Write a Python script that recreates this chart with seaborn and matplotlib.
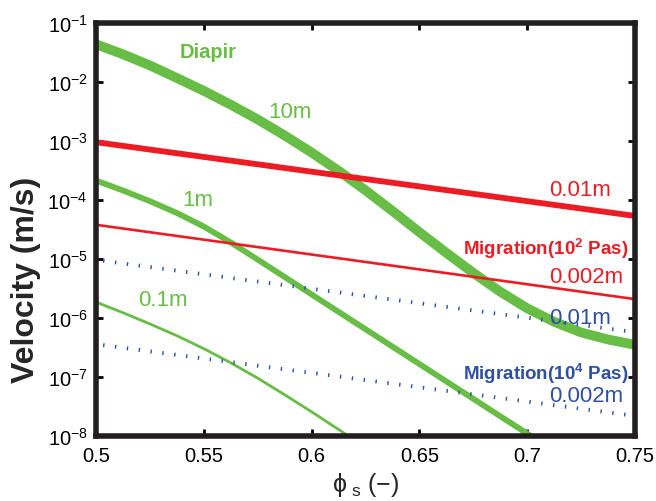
import numpy as np
import pandas as pd
import matplotlib
matplotlib.use("Agg")
import matplotlib.pyplot as plt
import seaborn as sns

# ---- data ----
x_10m = [0.5, 0.5125, 0.525, 0.5375, 0.55, 0.5625, 0.575, 0.5875, 0.6, 0.6125,
         0.625, 0.6375, 0.65, 0.6625, 0.675, 0.6875, 0.7, 0.7125, 0.725, 0.7375, 0.75]
diapir_10m = [4.37e-2, 2.95e-2, 1.91e-2, 1.17e-2, 7.08e-3, 4.12e-3, 2.32e-3, 1.24e-3,
              6.38e-4, 3.13e-4, 1.46e-4, 6.53e-5, 2.85e-5, 1.27e-5, 5.82e-6, 2.79e-6,
              1.46e-6, 8.61e-7, 5.69e-7, 4.32e-7, 3.51e-7]
x_1m = [0.5, 0.5125, 0.525, 0.5375, 0.55, 0.5625, 0.575, 0.5875, 0.6, 0.6125,
        0.625, 0.6375, 0.65, 0.6625, 0.675, 0.6875, 0.7, 0.7125]
diapir_1m = [2.14e-4, 1.45e-4, 9.55e-5, 6.03e-5, 3.55e-5, 1.91e-5, 9.77e-6, 4.95e-6,
             2.51e-6, 1.27e-6, 6.46e-7, 3.27e-7, 1.66e-7, 8.41e-8, 4.27e-8, 2.16e-8,
             1.10e-8, 5.56e-9]
x_01m = [0.5, 0.5125, 0.525, 0.5375, 0.55, 0.5625, 0.575, 0.5875, 0.6, 0.6125, 0.625]
diapir_01m = [1.86e-6, 1.23e-6, 7.94e-7, 5.01e-7, 3.02e-7, 1.74e-7, 9.55e-8, 5.01e-8,
              2.57e-8, 1.29e-8, 6.46e-9]
mig2_x = [0.5, 0.75]
mig2_001m = [9.55e-4, 5.37e-5]
mig2_0002m = [3.80e-5, 2.09e-6]
mig4_x = [0.5033, 0.75]
mig4_001m = [9.33e-6, 5.75e-7]
mig4_0002m = [3.47e-7, 2.19e-8]

xticks = [0.5, 0.55, 0.6, 0.65, 0.7, 0.75]
xticklabels = ["0.5", "0.55", "0.6", "0.65", "0.7", "0.75"]
yticks = [1e-8, 1e-7, 1e-6, 1e-5, 1e-4, 1e-3, 1e-2, 1e-1]
yticklabels = [r"$10^{-8}$", r"$10^{-7}$", r"$10^{-6}$", r"$10^{-5}$",
               r"$10^{-4}$", r"$10^{-3}$", r"$10^{-2}$", r"$10^{-1}$"]

GREEN = "#67bd45"
RED = "#ec1c24"
BLUE = "#2e4fa3"

sns.set_style("ticks")
plt.rcParams["font.family"] = ["Liberation Sans", "DejaVu Sans"]
plt.rcParams["mathtext.fontset"] = "custom"
plt.rcParams["mathtext.rm"] = "Liberation Sans"
plt.rcParams["mathtext.it"] = "Liberation Sans:italic"
plt.rcParams["mathtext.bf"] = "Liberation Sans:bold"
plt.rcParams["lines.scale_dashes"] = False

fig = plt.figure(figsize=(6.56, 5.02), dpi=100)
L, R, T, B = 96, 635, 24, 437
ax = fig.add_axes([L / 656, 1 - B / 502, (R - L) / 656, (B - T) / 502])

def draw(x, y, color, lw, dashes=None):
    df = pd.DataFrame({"x": x, "y": y})
    sns.lineplot(data=df, x="x", y="y", ax=ax, color=color, linewidth=lw,
                 sort=False, estimator=None)
    line = ax.lines[-1]
    line.set_solid_capstyle("butt")
    line.set_solid_joinstyle("round")
    if dashes is not None:
        line.set_dashes(dashes)
        line.set_dash_capstyle("butt")

draw(x_10m, diapir_10m, GREEN, 7.0)
draw(mig2_x, mig2_001m, RED, 4.2)
draw(x_1m, diapir_1m, GREEN, 4.2)
draw(mig2_x, mig2_0002m, RED, 1.9)
draw(x_01m, diapir_01m, GREEN, 2.0)
draw(mig4_x, mig4_001m, BLUE, 2.8, dashes=(1.0, 7.6))
draw(mig4_x, mig4_0002m, BLUE, 2.8, dashes=(1.0, 7.6))

ax.set_yscale("log")
ax.set_xlim(0.5, 0.75)
ax.set_ylim(1e-8, 1e-1)
ax.set_xticks(xticks)
ax.set_xticklabels(xticklabels)
ax.set_yticks(yticks)
ax.set_yticklabels(yticklabels)
ax.minorticks_off()
ax.tick_params(direction="in", length=5, width=2, top=True, right=True,
               labelsize=14.5, pad=7, colors="black")
ax.tick_params(axis="y", pad=6)
for s in ax.spines.values():
    s.set_linewidth(4)
    s.set_color("#231f20")

ax.set_xlabel(r"$\mathregular{\phi}_{\ \mathregular{s}}$ (−)", fontsize=18, labelpad=4)
ax.set_ylabel("Velocity (m/s)", fontsize=23, fontweight="bold", va="center")
ax.yaxis.set_label_coords(-(L - 26) / (R - L), 1 - (280 - T) / (B - T))

def px(xp, yp):
    return ((xp - L) / (R - L), 1 - (yp - T) / (B - T))

kw = dict(transform=ax.transAxes, va="center")
ax.text(*px(208, 52), "Diapir", color=GREEN, fontsize=14.5, fontweight="bold", ha="center", **kw)
ax.text(*px(290, 113), "10m", color=GREEN, fontsize=16, ha="center", **kw)
ax.text(*px(198, 201), "1m", color=GREEN, fontsize=16, ha="center", **kw)
ax.text(*px(163, 301), "0.1m", color=GREEN, fontsize=16, ha="center", **kw)
ax.text(*px(580, 191), "0.01m", color=RED, fontsize=16, ha="center", **kw)
ax.text(*px(628, 249), r"Migration(10$^{\mathbf{2}}$ Pas)", color=RED, fontsize=13.5,
        fontweight="bold", ha="right", **kw)
ax.text(*px(586, 278), "0.002m", color=RED, fontsize=16, ha="center", **kw)
ax.text(*px(580, 318), "0.01m", color=BLUE, fontsize=16, ha="center", **kw)
ax.text(*px(628, 374), r"Migration(10$^{\mathbf{4}}$ Pas)", color=BLUE, fontsize=13.5,
        fontweight="bold", ha="right", **kw)
ax.text(*px(586, 397), "0.002m", color=BLUE, fontsize=16, ha="center", **kw)

fig.savefig("out.png", dpi=100)
